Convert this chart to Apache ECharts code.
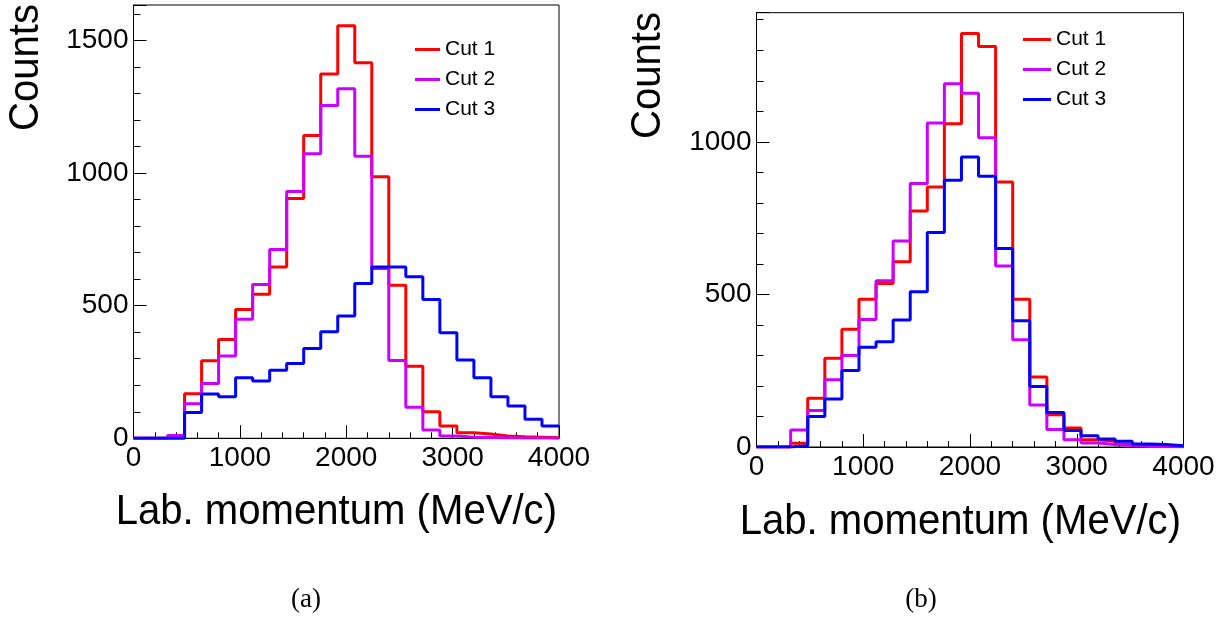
<!DOCTYPE html>
<html>
<head>
    <meta charset="utf-8">
    <title>Lab. momentum histograms</title>
    <script src="https://cdn.jsdelivr.net/npm/echarts@6.0.0/dist/echarts.min.js"></script>
    <style>
        html, body { margin: 0; padding: 0; background: #fff; }
        #chart { width: 1223px; height: 620px; }
    </style>
</head>
<body>
<div id="chart"></div>
<script>
    // lower bin edges (MeV/c), 160 MeV/c wide bins, last bin ends at 4000
    const binLow = [0, 160, 320, 480, 640, 800, 960, 1120, 1280, 1440, 1600, 1760, 1920,
        2080, 2240, 2400, 2560, 2720, 2880, 3040, 3200, 3360, 3520, 3680, 3840];
    const xMax = 4000;
    const cutNames = ['Cut 1', 'Cut 2', 'Cut 3'];
    const cutColors = ['#ff0000', '#cc00ff', '#0000ff'];

    // panel (a)
    const a_cut1 = [0, 0, 0, 168, 292, 373, 486, 543, 646, 904, 1142, 1374, 1556,
        1416, 986, 577, 272, 100, 46, 21, 16, 9, 6, 4, 2];
    const a_cut2 = [0, 0, 11, 130, 207, 310, 449, 580, 712, 931, 1073, 1255, 1318,
        1064, 640, 293, 117, 31, 9, 4, 3, 2, 1, 1, 0];
    const a_cut3 = [0, 0, 0, 97, 167, 157, 228, 216, 257, 282, 339, 402, 461,
        584, 646, 646, 609, 523, 398, 295, 228, 157, 122, 72, 46];

    // panel (b)
    const b_cut1 = [0, 0, 12, 160, 291, 386, 484, 536, 607, 773, 852, 1059, 1355,
        1312, 868, 484, 229, 106, 62, 24, 19, 10, 5, 3, 2];
    const b_cut2 = [0, 0, 56, 120, 220, 300, 418, 545, 675, 863, 1062, 1190, 1159,
        1013, 593, 351, 138, 57, 24, 13, 8, 5, 2, 1, 1];
    const b_cut3 = [0, 0, 4, 100, 157, 251, 327, 345, 416, 509, 703, 874, 950,
        887, 650, 414, 198, 113, 54, 37, 26, 19, 10, 8, 4];

    const yMaxA = 1634;
    const yMaxB = 1423;

    const FONT = 'Liberation Sans';

    function steps(values) {
        const pts = binLow.map((x, i) => [x, values[i]]);
        pts.push([xMax, values[values.length - 1]]);
        return pts;
    }

    function xAxisFor(gridIndex) {
        return {
            type: 'value', gridIndex: gridIndex, min: 0, max: xMax, interval: 1000,
            position: 'bottom',
            axisLine: { show: true, onZero: false, lineStyle: { color: '#000', width: 1 } },
            axisTick: { inside: true, length: 13, lineStyle: { color: '#000' } },
            minorTick: { show: true, splitNumber: 5, length: 6, lineStyle: { color: '#000' } },
            splitLine: { show: false },
            axisLabel: { color: '#000', fontFamily: FONT, fontSize: 28, margin: 6,
                         formatter: v => String(v) }
        };
    }

    function yAxesFor(gridIndex, yMax) {
        return [{
            type: 'value', gridIndex: gridIndex, min: 0, max: yMax, interval: 500,
            position: 'left',
            axisLine: { show: true, onZero: false, lineStyle: { color: '#000', width: 1 } },
            axisTick: { inside: true, length: 13, lineStyle: { color: '#000' } },
            splitLine: { show: false },
            axisLabel: {
                color: '#000', fontFamily: FONT, fontSize: 28, margin: 5,
                formatter: v => (v % 500 === 0 ? String(v) : '')
            }
        }, {
            type: 'value', gridIndex: gridIndex, min: 0, max: yMax, interval: 100,
            position: 'left',
            axisLine: { show: false, onZero: false },
            axisTick: { inside: true, length: 7, lineStyle: { color: '#000' } },
            splitLine: { show: false },
            axisLabel: { show: false }
        }];
    }

    function cutSeries(xi, yi, values, k) {
        return {
            name: cutNames[k], type: 'line', xAxisIndex: xi, yAxisIndex: yi,
            step: 'end', showSymbol: false, symbol: 'none',
            color: cutColors[k],
            lineStyle: { color: cutColors[k], width: 3 },
            data: steps(values)
        };
    }

    function legendFor(left, top, iw) {
        return {
            orient: 'vertical', left: left, top: top, padding: 0,
            itemWidth: iw, itemHeight: 3, itemGap: 9, icon: 'rect',
            data: cutNames,
            textStyle: { color: '#000', fontFamily: FONT, fontSize: 21 }
        };
    }

    const chart = echarts.init(document.getElementById('chart'));
    chart.setOption({
        animation: false,
        backgroundColor: '#fff',
        grid: [
            { left: 133.5, top: 5, width: 425.5, height: 433.3, show: true,
              borderColor: '#000', borderWidth: 1, backgroundColor: 'transparent' },
            { left: 756.5, top: 12.7, width: 427, height: 434.3, show: true,
              borderColor: '#000', borderWidth: 1, backgroundColor: 'transparent' }
        ],
        xAxis: [xAxisFor(0), xAxisFor(1)],
        yAxis: [...yAxesFor(0, yMaxA), ...yAxesFor(1, yMaxB)],
        legend: [legendFor(415, 39, 25), legendFor(1023, 29, 28)],
        series: [
            cutSeries(0, 0, a_cut1, 0),
            cutSeries(0, 0, a_cut2, 1),
            cutSeries(0, 0, a_cut3, 2),
            cutSeries(1, 2, b_cut1, 0),
            cutSeries(1, 2, b_cut2, 1),
            cutSeries(1, 2, b_cut3, 2)
        ],
        graphic: [
            { type: 'text', x: 557, y: 512, scaleX: 0.955,
              style: { text: 'Lab. momentum (MeV/c)', fontFamily: FONT, fontSize: 42,
                       fill: '#000', align: 'right', verticalAlign: 'middle' } },
            { type: 'text', x: 1181, y: 522, scaleX: 0.955,
              style: { text: 'Lab. momentum (MeV/c)', fontFamily: FONT, fontSize: 42,
                       fill: '#000', align: 'right', verticalAlign: 'middle' } },
            { type: 'text', x: 26, y: 4, rotation: Math.PI / 2, scaleX: 0.955,
              style: { text: 'Counts', fontFamily: FONT, fontSize: 42,
                       fill: '#000', align: 'right', verticalAlign: 'middle' } },
            { type: 'text', x: 648, y: 12, rotation: Math.PI / 2, scaleX: 0.955,
              style: { text: 'Counts', fontFamily: FONT, fontSize: 42,
                       fill: '#000', align: 'right', verticalAlign: 'middle' } },
            { type: 'text', x: 306, y: 600,
              style: { text: '(a)', fontFamily: 'Liberation Serif', fontSize: 27,
                       fill: '#000', align: 'center', verticalAlign: 'middle' } },
            { type: 'text', x: 921, y: 600,
              style: { text: '(b)', fontFamily: 'Liberation Serif', fontSize: 27,
                       fill: '#000', align: 'center', verticalAlign: 'middle' } }
        ]
    });
</script>
</body>
</html>
